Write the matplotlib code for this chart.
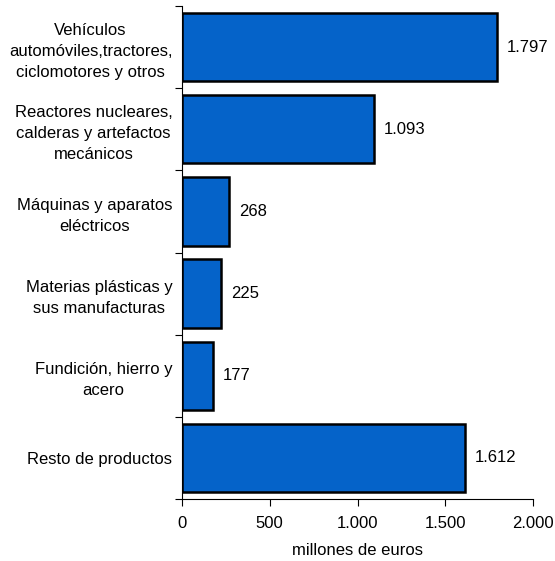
import matplotlib
matplotlib.use("Agg")
import matplotlib.pyplot as plt
import numpy as np

plt.rcParams['font.family'] = ['Liberation Sans', 'DejaVu Sans']

categories = [
    "Vehículos\nautomóviles,tractores,\nciclomotores y otros",
    "Reactores nucleares,\ncalderas y artefactos\nmecánicos",
    "Máquinas y aparatos\neléctricos",
    "Materias plásticas y\nsus manufacturas",
    "Fundición, hierro y\nacero",
    "Resto de productos",
]
values = [1797, 1093, 268, 225, 177, 1612]
value_labels = ["1.797", "1.093", "268", "225", "177", "1.612"]
xticks = [0, 500, 1000, 1500, 2000]
xtick_labels = ["0", "500", "1.000", "1.500", "2.000"]

FS = 12
fig = plt.figure(figsize=(5.55, 5.61), dpi=100)
ax = fig.add_axes([182/555, 1-499/561, (533-182)/555, (499-6)/561])

y = np.arange(len(categories))
ax.barh(y, values, height=0.83, color='#0563c9', edgecolor='black', linewidth=1.8)
ax.set_ylim(len(categories)-0.5, -0.5)
ax.set_xlim(0, 2000)

for yi, v, lab in zip(y, values, value_labels):
    ax.text(v + 55, yi, lab, va='center', ha='left', fontsize=FS)

ax.set_xticks(xticks)
ax.set_xticklabels(xtick_labels, fontsize=FS)
ax.set_yticks(np.arange(len(categories)+1) - 0.5)
ax.set_yticklabels([])
ax.set_yticks(y, minor=True)
ax.set_yticklabels(categories, minor=True, fontsize=FS, multialignment='center',
                   linespacing=1.5)
ax.tick_params(axis='y', which='minor', length=0, pad=7)
ax.tick_params(axis='y', which='major', length=5, direction='out')
ax.tick_params(axis='x', length=5, direction='out', pad=7)
for s in ['top', 'right']:
    ax.spines[s].set_visible(False)
ax.set_xlabel("millones de euros", fontsize=FS, labelpad=9)

fig.savefig("out.png", dpi=100)
